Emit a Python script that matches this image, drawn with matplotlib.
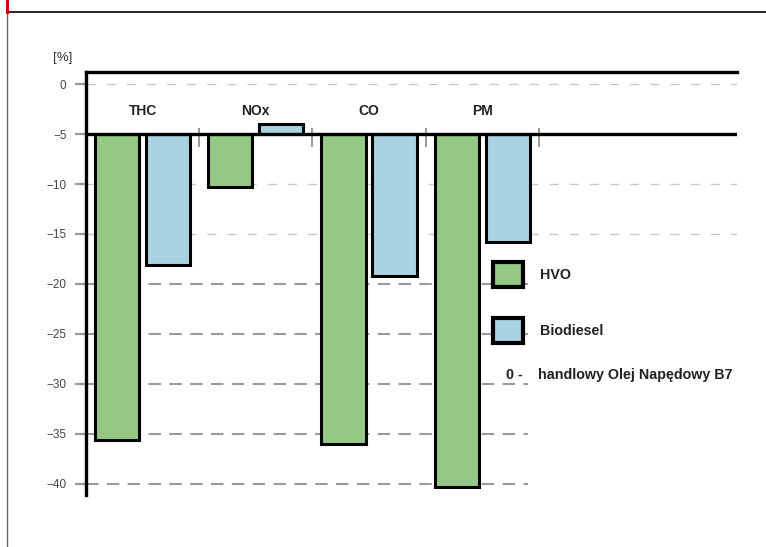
import numpy as np
import matplotlib
matplotlib.use("Agg")
import matplotlib.pyplot as plt
from matplotlib.patches import Patch
from matplotlib.lines import Line2D

plt.rcParams['font.family'] = ['Liberation Sans', 'DejaVu Sans']

# dane
categories = ['THC', 'NOx', 'CO', 'PM']
hvo = [-35.6, -10.3, -36.0, -40.3]
biodiesel = [-18.1, -4.0, -19.2, -15.8]
base = -5
yticks = [0, -5, -10, -15, -20, -25, -30, -35, -40]

green = '#95c785'
blue = '#a9d3e1'

fig = plt.figure(figsize=(7.66, 5.47), dpi=100)
ax = fig.add_axes([86 / 766, 1 - 495 / 547, (737 - 86) / 766, (495 - 72) / 547])

x = np.arange(len(categories))
w = 0.39
hvo = np.array(hvo)
biodiesel = np.array(biodiesel)
ax.bar(x - 0.225, hvo - base, bottom=base, width=w, color=green,
       edgecolor='black', linewidth=2.2, zorder=3)
ax.bar(x + 0.225, biodiesel - base, bottom=base, width=w, color=blue,
       edgecolor='black', linewidth=2.2, zorder=3)

# linie siatki
for v in yticks:
    if v == base:
        continue
    if v > -20:
        ax.hlines(v, -0.5, 5.25, colors='#c9c9c9', lw=1.0,
                  linestyles=(0, (6.5, 8)), zorder=1)
    else:
        ax.hlines(v, -0.5, 3.4, colors='#9b9b9b', lw=1.5,
                  linestyles=(0, (6, 4)), zorder=1)

ax.axhline(base, color='black', lw=2.4, zorder=4)
ax.vlines(x + 0.5, -4.4, -6.3, colors='#888888', lw=1.2, zorder=2)

for xi, c in zip(x, categories):
    ax.text(xi, -2.7, c, ha='center', va='center', fontsize=10,
            fontweight='bold', color='#222222')

ax.set_xlim(-0.5, 5.25)
ax.set_ylim(-41.1, 1.2)
ax.set_xticks([])
ax.set_yticks(yticks)
ax.set_yticklabels([f'\u2212{abs(v)}' if v else '0' for v in yticks])
ax.tick_params(axis='y', length=8, width=1.6, color='#999999',
               labelsize=8.5, labelcolor='#444444', pad=6)
for s in ['right', 'bottom']:
    ax.spines[s].set_visible(False)
ax.spines['left'].set_linewidth(2.4)
ax.spines['top'].set_linewidth(2.4)

fig.text(63 / 766, 1 - 58 / 547, '[%]', ha='center', va='center',
         fontsize=9.5, color='#333333')

# legenda
handles = [Patch(facecolor=green, edgecolor='black', linewidth=3),
           Patch(facecolor=blue, edgecolor='black', linewidth=3)]
leg = fig.legend(handles, ['HVO', 'Biodiesel'], loc='upper left',
                 bbox_to_anchor=(493 / 766, 1 - 262 / 547),
                 frameon=False, fontsize=10.3, handlelength=2.1,
                 handleheight=2.3, handletextpad=1.2, labelspacing=2.2,
                 borderpad=0, borderaxespad=0)
for t in leg.get_texts():
    t.set_fontweight('bold')
    t.set_color('#222222')

fig.text(506 / 766, 1 - 375 / 547, '0 -', ha='left', va='center',
         fontsize=10.3, fontweight='bold', color='#222222')
fig.text(538 / 766, 1 - 375 / 547, 'handlowy Olej Napędowy B7', ha='left',
         va='center', fontsize=10.3, fontweight='bold', color='#222222')

# ramka strony
fig.add_artist(Line2D([7 / 766, 1], [1 - 12 / 547] * 2, color='black', lw=1.2,
                      transform=fig.transFigure))
fig.add_artist(Line2D([7 / 766] * 2, [0, 1 - 12 / 547], color='#666666', lw=1.0,
                      transform=fig.transFigure))
fig.add_artist(Line2D([7 / 766] * 2, [1 - 12 / 547, 1], color='#cc0000', lw=2.2,
                      transform=fig.transFigure))

fig.savefig('out.png', dpi=100)
